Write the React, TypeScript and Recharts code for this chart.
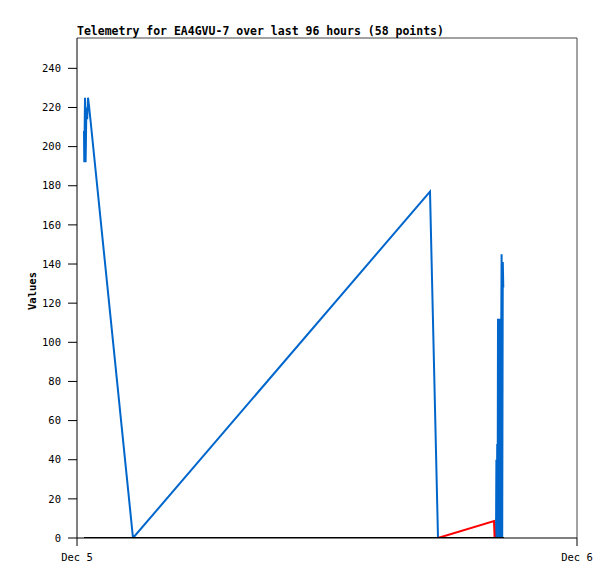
import React from "react";
import { LineChart, Line, XAxis, YAxis, ReferenceLine } from "recharts";

// hours since Dec 5 00:00
const blueHours = [
  0.336, 0.35, 0.384, 0.413, 0.451, 0.49, 0.528, 0.576, 2.688, 16.944, 17.328,
  20.112, 20.131, 20.15, 20.17, 20.189, 20.208, 20.227, 20.246, 20.266, 20.285,
  20.304, 20.323, 20.342, 20.366, 20.381, 20.41, 20.438, 20.462,
];
const blueValues = [
  208, 192, 225, 192, 220, 214, 225, 221, 0, 177, 0,
  0, 40, 0, 48, 0, 112, 0, 112, 0, 112,
  0, 112, 0, 112, 145, 0, 141, 128,
];
const redHours = [17.328, 20.016, 20.045];
const redValues = [0, 8.7, 0];
const blackHours = [0.336, 20.496];
const blackValues = [0, 0];

const yTicks = [0, 20, 40, 60, 80, 100, 120, 140, 160, 180, 200, 220, 240];
const xTicks = [0, 24];
const xTickLabels = ["Dec 5", "Dec 6"];
const yMax = 255.5;

const title = "Telemetry for EA4GVU-7 over last 96 hours (58 points)";
const yLabel = "Values";

const toRows = (hs: number[], vs: number[]) => hs.map((t, i) => ({ t, v: vs[i] }));
const blueData = toRows(blueHours, blueValues);
const redData = toRows(redHours, redValues);
const blackData = toRows(blackHours, blackValues);

const FONT = "'DejaVu Sans Mono', 'Liberation Mono', monospace";

export default function App() {
  return (
    <div style={{ position: "absolute", left: 0, top: 0, width: 615, height: 579, background: "#fff" }}>
      <LineChart
        width={615}
        height={579}
        margin={{ top: 38, right: 38, bottom: 0, left: 0 }}
        style={{ fontFamily: FONT }}
      >
        <XAxis
          type="number"
          dataKey="t"
          domain={[0, 24]}
          ticks={xTicks}
          tickFormatter={(v: number) => xTickLabels[xTicks.indexOf(v)] ?? ""}
          height={41}
          tickSize={8}
          tickMargin={8}
          axisLine={{ stroke: "#000" }}
          tickLine={{ stroke: "#000" }}
          tick={{ fill: "#000", fontSize: 10.5, fontFamily: FONT }}
          allowDataOverflow
        />
        <YAxis
          type="number"
          domain={[0, yMax]}
          ticks={yTicks}
          width={77}
          tickSize={9}
          tickMargin={7}
          axisLine={{ stroke: "#000" }}
          tickLine={{ stroke: "#000" }}
          tick={{ fill: "#000", fontSize: 10.5, fontFamily: FONT }}
          allowDataOverflow
        />
        <ReferenceLine y={yMax} stroke="#444" strokeWidth={1} />
        <ReferenceLine x={24} stroke="#444" strokeWidth={1} />
        <Line data={blueData} dataKey="v" type="linear" stroke="#0066CC" strokeWidth={2} dot={false} isAnimationActive={false} />
        <Line data={redData} dataKey="v" type="linear" stroke="#FF0000" strokeWidth={2} dot={false} isAnimationActive={false} />
        <Line data={blackData} dataKey="v" type="linear" stroke="#000000" strokeWidth={2} dot={false} isAnimationActive={false} />
      </LineChart>
      <svg width={615} height={579} style={{ position: "absolute", left: 0, top: 0, pointerEvents: "none" }}>
        <text x={77} y={35} fontFamily={FONT} fontSize={11.5} fontWeight="bold" fill="#000">
          {title}
        </text>
        <text
          x={36}
          y={291}
          transform="rotate(-90 36 291)"
          textAnchor="middle"
          fontFamily={FONT}
          fontSize={10.5}
          fontWeight="bold"
          fill="#000"
        >
          {yLabel}
        </text>
      </svg>
    </div>
  );
}
